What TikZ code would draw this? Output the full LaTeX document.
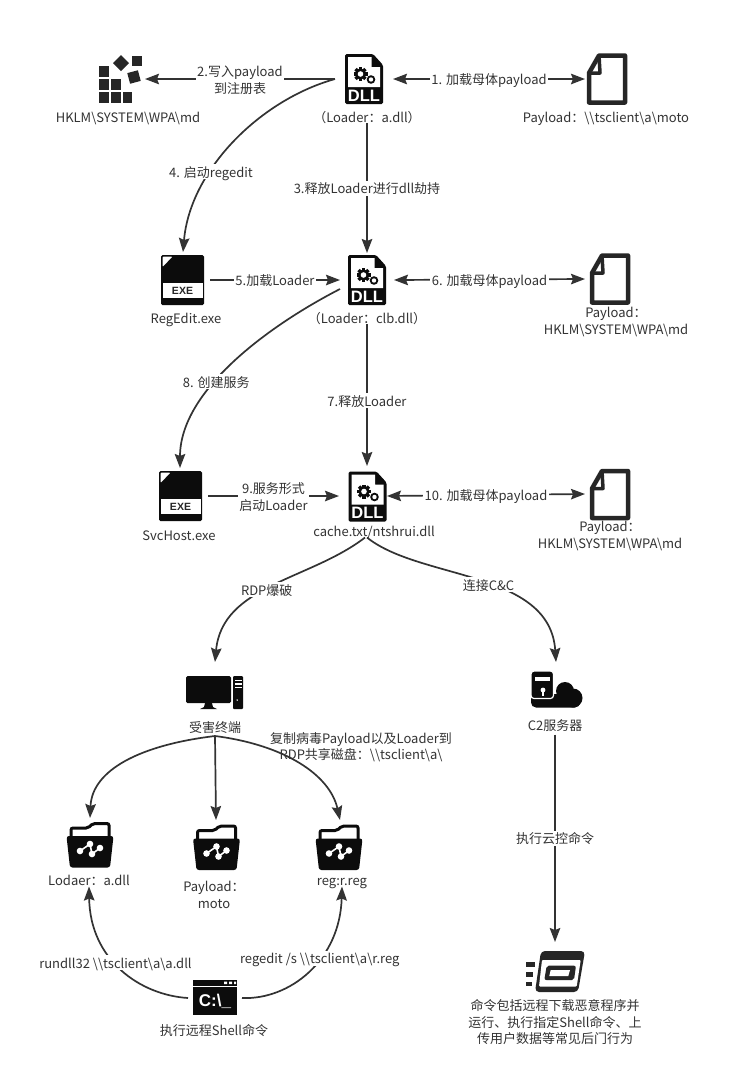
\documentclass[tikz,border=0pt]{standalone}
\usepackage{fontspec}
\setmainfont{Noto Sans CJK SC}
\newfontfamily\iconfont{Liberation Sans}
\usetikzlibrary{arrows.meta}
\definecolor{tc}{HTML}{333333}
\definecolor{lc}{HTML}{333333}
\definecolor{ic}{HTML}{0C0C0C}
\definecolor{dc}{HTML}{262626}
\newcommand{\bs}{\textbackslash}
\tikzset{
  >={Stealth[length=14pt,width=10.5pt,inset=2pt]},
  conn/.style={draw=lc,line width=1.7pt,->},
  biconn/.style={draw=lc,line width=1.7pt,<->},
  box/.style={inner sep=0pt,outer sep=0pt,rectangle},
  lab/.style={inner sep=0pt,outer sep=0pt,text=tc,font=\fontsize{13}{16.5}\selectfont,text height=12pt,text depth=1pt},
  mlab/.style={inner sep=0pt,outer sep=0pt,text=tc,font=\fontsize{13}{16.5}\selectfont,align=center},
  elab/.style={lab,fill=white,inner xsep=1.5pt,inner ysep=1pt},
  melab/.style={mlab,fill=white,inner xsep=1.5pt,inner ysep=1pt,yshift=-1pt},
  gearicon/.pic={
    \foreach \a in {0,45,...,315}{\fill[ic,rotate=\a] (-1.6,-7) rectangle (1.6,0);}
    \fill[ic] (0,0) circle (5.6);
    \fill[white] (0,0) circle (2.8);
  },
  dllicon/.pic={
    \fill[ic,rounded corners=1.5pt] (-19,-25) -- (9,-25) -- (19,-14) -- (19,25) -- (-19,25) -- cycle;
    \fill[white] (-16,-22) -- (7.5,-22) -- (7.5,-12) -- (16,-12) -- (16,8) -- (-16,8) -- cycle;
    \pic at (-3.5,-5) {gearicon};
    \fill[ic] (7,0.5) circle (4.3);
    \fill[white] (7,0.5) circle (2.2);
    \node[inner sep=0pt,text=white,font=\iconfont\bfseries\fontsize{16.5}{16.5}\selectfont] (t) at (0,16.5) {DLL};
  },
  exeicon/.pic={
    \fill[ic,rounded corners=1.5pt] (-21.5,-25) rectangle (21.5,25);
    \fill[white,rounded corners=1pt] (-20,-23.5) -- (-10,-23.5) -- (-20,-13) -- cycle;
    \fill[white] (-20,3) rectangle (20,18);
    \node[inner sep=0pt,text=dc,font=\iconfont\bfseries\fontsize{10.5}{10.5}\selectfont] (t) at (0,10.5) {EXE};
  },
  regicon/.pic={
    \fill[dc] (-22,-13) rectangle (-12,-2.3);
    \fill[dc] (-22,0) rectangle (-12,11);
    \fill[dc] (-10,0) rectangle (0,11);
    \fill[dc] (-22,13) rectangle (-12,24);
    \fill[dc] (-10,13) rectangle (0,24);
    \fill[dc] (1.5,13) rectangle (11,24);
    \fill[dc] (0,-24) -- (8,-16) -- (0,-8) -- (-8,-16) -- cycle;
    \fill[dc] (11,-23) rectangle (21,-13);
    \fill[dc,rotate around={15:(13,-2)}] (7.5,-7.5) rectangle (18.5,3.5);
  },
  docicon/.pic={
    \draw[dc,line width=4.5pt,line join=round] (-8,-23.5) -- (18,-23.5) -- (18,23.5) -- (-18,23.5) -- (-18,-6) -- cycle;
    \draw[dc,line width=3.5pt,line join=round] (-8,-23.5) -- (-7,-6) -- (-18,-6);
  },
  moniticon/.pic={
    \fill[ic,rounded corners=1.5pt] (-29,-16) rectangle (16,11);
    \fill[ic] (-10,11) -- (-3,11) -- (-2,15) -- (2,17) -- (-15,17) -- (-11,15) -- cycle;
    \fill[ic,rounded corners=1pt] (18,-16) rectangle (28,17);
    \fill[white] (19.5,-12.5) rectangle (26.5,-11);
    \fill[white] (19.5,-9) rectangle (26.5,-7.5);
    \fill[white] (19.5,-5.5) rectangle (26.5,-4);
    \fill[white] (22.2,8) circle (0.8);
  },
  cloudicon/.pic={
    \fill[ic] (9,1) circle (9);
    \fill[ic] (17,8) circle (9.5);
    \fill[ic,rounded corners=5pt] (-25,4) rectangle (24,17.5);
    \draw[white,line width=1.2pt,rounded corners=3pt,fill=ic] (-25,8.5) -- (-25,-19) -- (-2.5,-19) -- (-2.5,8.5) -- cycle;
    \fill[white] (-21,-13.5) rectangle (-6,-9);
    \fill[white] (-13,0) circle (2.4);
    \fill[white] (-14,2) rectangle (-12,5.5);
  },
  foldericon/.pic={
    \draw[ic,line width=3pt,rounded corners=2pt,fill=white] (-19,-8) -- (-19,-17) -- (-2,-17) -- (3,-21.5) -- (19,-21.5) -- (19,-8);
    \fill[ic,rounded corners=2.5pt] (-23.5,-9) -- (23.5,-9) -- (20,22.5) -- (-20,22.5) -- cycle;
    \draw[white,line width=1.6pt] (-10,6) -- (0,-1) -- (2,9) -- (10,3);
    \fill[white] (-10,6) circle (3.3) (0,-1) circle (3.3) (2,9) circle (3.3) (10,3) circle (3.3);
  },
  cmdicon/.pic={
    \fill[ic] (-22,-17.5) rectangle (22,-11.5);
    \fill[white] (9,-16) rectangle (12,-13.5) (14,-16) rectangle (17,-13.5) (19,-16) rectangle (21,-13.5);
    \fill[ic] (-22,-10.5) rectangle (22,17.5);
    \node[inner sep=0pt,text=white,font=\iconfont\bfseries\fontsize{17}{17}\selectfont] (t) at (0,3.5) {C:\bs\_};
  },
  execicon/.pic={
    \fill[dc,rounded corners=4pt] (-14,-20.5) -- (30,-20.5) -- (23,20.5) -- (-20,20.5) -- cycle;
    \fill[white,rounded corners=1pt] (-13,-11.5) -- (25.7,-11.5) -- (21.7,15) -- (-16,15) -- cycle;
    \fill[dc,rounded corners=2pt] (-8.3,-5.8) -- (21,-5.8) -- (19,8.5) -- (-10.7,8.5) -- cycle;
    \fill[white] (-4.3,-1.5) -- (15,-1.5) -- (13.3,4.5) -- (-5.7,4.5) -- cycle;
    \fill[dc] (-29,-9.5) rectangle (-20,-4.5);
    \fill[dc] (-29,0.5) rectangle (-22,5.5);
    \fill[dc] (-29,10.5) rectangle (-23.5,14.5);
  },
}
\begin{document}
\begin{tikzpicture}[x=1pt,y=-1pt]
\useasboundingbox[fill=white] (0,0) rectangle (740,1082);

% icons
\pic (iRegA) at (121,79) {regicon};
\pic (iDllA) at (364,79) {dllicon};
\pic (iDocA) at (607,79) {docicon};
\pic (iExeA) at (182.5,280) {exeicon};
\pic (iDllB) at (367,280) {dllicon};
\pic (iDocB) at (610,279) {docicon};
\pic (iExeB) at (180.5,496) {exeicon};
\pic (iDllC) at (367.5,496.5) {dllicon};
\pic (iDocC) at (610,494.5) {docicon};
\pic (iMon) at (215,692) {moniticon};
\pic (iCloud) at (556,690) {cloudicon};
\pic (iFolA) at (90,845) {foldericon};
\pic (iFolB) at (216.5,847.5) {foldericon};
\pic (iFolC) at (339,847.5) {foldericon};
\pic (iCmd) at (215,997.5) {cmdicon};
\pic (iExec) at (555,971.5) {execicon};

% connection boxes round the icons
\node[box,minimum width=48pt,minimum height=50pt] (regA) at (121,79) {};
\node[box,minimum width=58pt,minimum height=50pt] (dllA) at (364,79) {};
\node[box,minimum width=44pt,minimum height=50pt] (docA) at (607,79) {};
\node[box,minimum width=54pt,minimum height=56pt] (exeA) at (183,280) {};
\node[box,minimum width=54pt,minimum height=54pt] (dllB) at (367,280) {};
\node[box,minimum width=50pt,minimum height=50pt] (docB) at (610,279) {};
\node[box,minimum width=56pt,minimum height=56pt] (exeB) at (180,496) {};
\node[box,minimum width=56pt,minimum height=60pt] (dllC) at (367,496) {};
\node[box,minimum width=50pt,minimum height=50pt] (docC) at (610,494) {};
\node[box,minimum width=60pt,minimum height=60pt] (mon) at (215,692) {};
\node[box,minimum width=60pt,minimum height=56pt] (cloud) at (556,690) {};
\node[box,minimum width=48pt,minimum height=54pt] (folA) at (90,845) {};
\node[box,minimum width=48pt,minimum height=54pt] (folB) at (216,847) {};
\node[box,minimum width=48pt,minimum height=54pt] (folC) at (340,847) {};
\node[box,minimum width=54pt,minimum height=36pt] (cmd) at (215,998) {};
\node[box,minimum width=60pt,minimum height=58pt] (exec) at (555,971) {};

% names
\node[lab] (lRegA) at (128,116.5) {HKLM\bs SYSTEM\bs WPA\bs md};
\node[lab] (lDllA) at (367,116.5) {（Loader：a.dll）};
\node[lab] (lDocA) at (606,116.5) {Payload：\bs\bs tsclient\bs a\bs moto};
\node[lab] (lExeA) at (186,318) {RegEdit.exe};
\node[lab] (lDllB) at (367,317.5) {（Loader：clb.dll）};
\node[mlab] (lDocB) at (616,322) {Payload：\\HKLM\bs SYSTEM\bs WPA\bs md};
\node[lab] (lExeB) at (179,535) {SvcHost.exe};
\node[lab] (lDllC) at (374,531) {cache.txt/ntshrui.dll};
\node[mlab] (lDocC) at (610,536) {Payload：\\HKLM\bs SYSTEM\bs WPA\bs md};
\node[lab] (lMon) at (215,726.5) {受害终端};
\node[lab] (lCloud) at (555,725) {C2服务器};
\node[lab] (lFolA) at (89,880) {Lodaer：a.dll};
\node[mlab] (lFolB) at (214,895) {Payload：\\moto};
\node[lab] (lFolC) at (342,880) {reg:r.reg};
\node[lab] (lCmd) at (214,1030) {执行远程Shell命令};
\node[mlab] (lExec) at (555,1022.5) {命令包括远程下载恶意程序并\\运行、执行指定Shell命令、上\\传用户数据等常见后门行为};
\node[mlab] (lCopy) at (361,747) {复制病毒Payload以及Loader到\\RDP共享磁盘：\bs\bs tsclient\bs a\bs};

% connectors
\draw[biconn] (dllA.east) -- node[elab] {1. 加载母体payload} (docA.west);
\draw[conn] (dllA.west) -- node[melab] {2.写入payload\\到注册表} (regA.east);
\draw[conn] (lDllA.south) -- node[elab] {3.释放Loader进行dll劫持} (dllB.north);
\draw[conn] (dllA.west) .. controls (260,100) and (190,170) .. node[elab,pos=.65] {4. 启动regedit} (exeA.north);
\draw[conn] (exeA.east) -- node[elab] {5.加载Loader} (dllB.west);
\draw[biconn] (dllB.east) -- node[elab] {6. 加载母体payload} (docB.west);
\draw[conn] (lDllB.south) -- node[elab,pos=.54] {7.释放Loader} (dllC.north);
\draw[conn] ([yshift=-9pt]dllB.west) .. controls (270,325) and (180,390) .. node[elab,pos=.6] {8. 创建服务} (exeB.north);
\draw[conn] (exeB.east) -- node[melab] {9.服务形式\\启动Loader} (dllC.west);
\draw[biconn] ([xshift=-8pt]dllC.east) -- node[elab] {10. 加载母体payload} (docC.west);
\draw[conn] ([xshift=-9pt]lDllC.south) .. controls (310,580) and (222,585) .. node[elab,pos=.53] {RDP爆破} (mon.north);
\draw[conn] ([xshift=-7pt]lDllC.south) .. controls (420,580) and (550,570) .. node[elab,pos=.54] {连接C\&C} (cloud.north);
\draw[conn] ([yshift=-3pt]lCloud.south) -- node[elab] {执行云控命令} (exec.north);
\draw[conn] ([yshift=-3pt]lMon.south) .. controls (140,745) and (92,770) .. (folA.north);
\draw[conn] ([yshift=-3pt]lMon.south) -- (folB.north);
\draw[conn] ([yshift=-3pt]lMon.south) .. controls (285,745) and (330,775) .. (folC.north);
\draw[conn] (cmd.west) .. controls (140,995) and (90,960) .. node[elab,pos=.55] {rundll32 \bs\bs tsclient\bs a\bs a.dll} (lFolA.south);
\draw[conn] (cmd.east) .. controls (290,1000) and (340,960) .. node[elab,pos=.6] {regedit /s \bs\bs tsclient\bs a\bs r.reg} (lFolC.south);
\end{tikzpicture}
\end{document}
